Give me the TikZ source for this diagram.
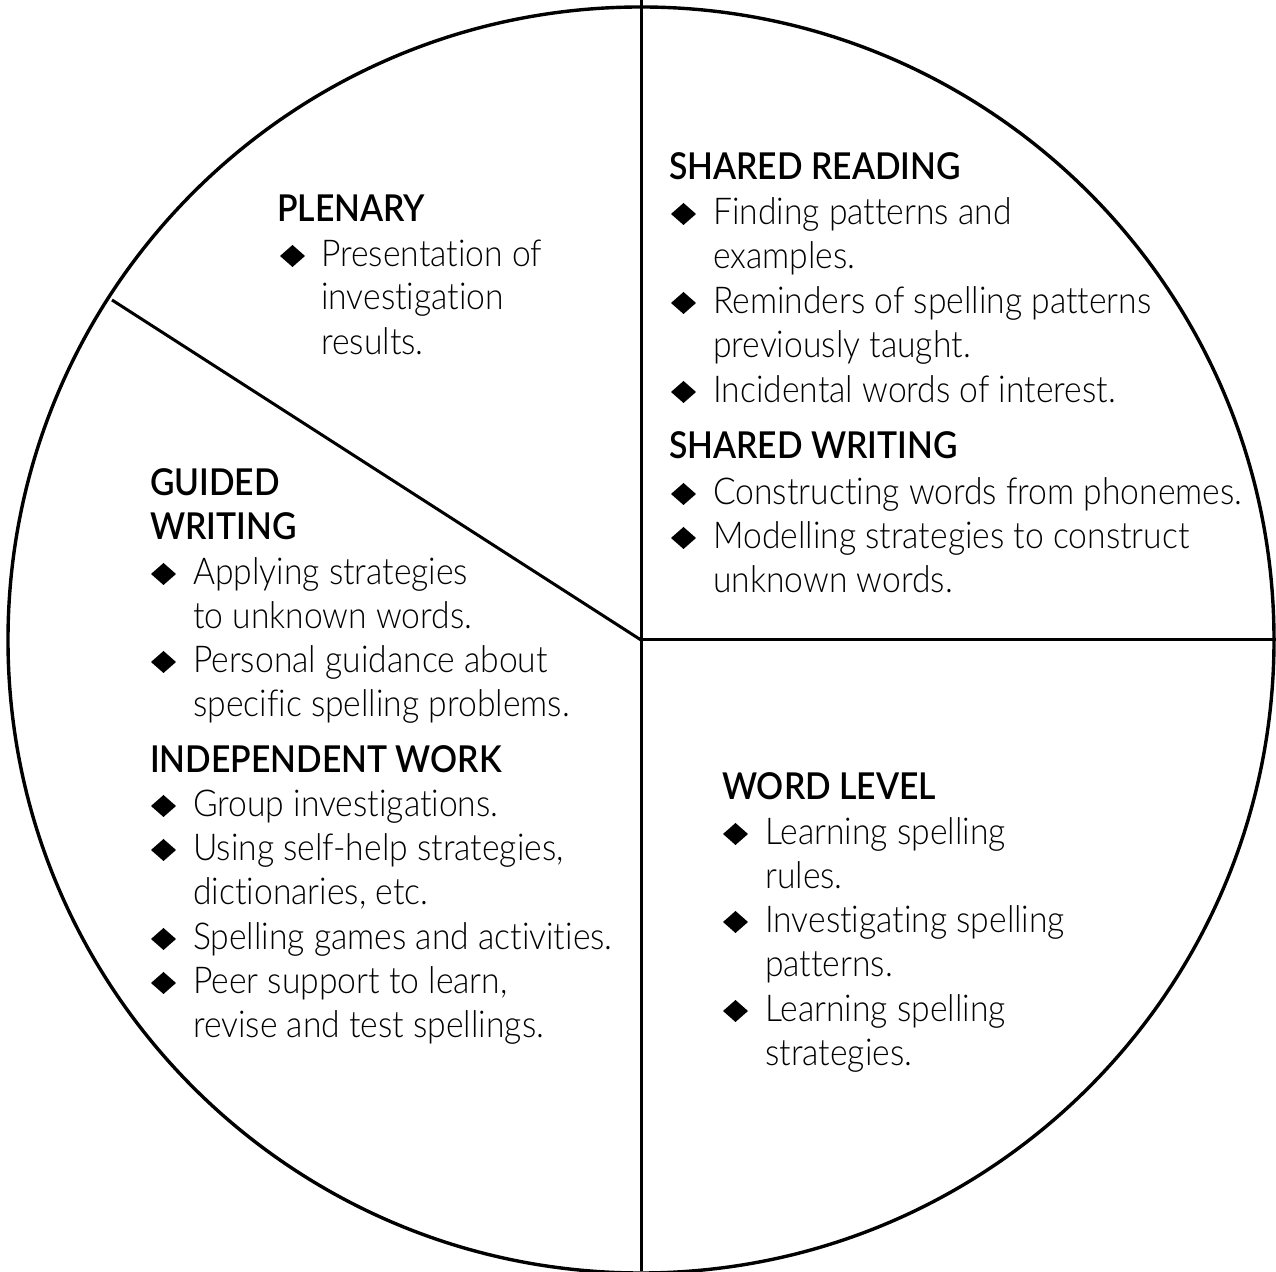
\documentclass[tikz,border=0pt]{standalone}
\usepackage{fontspec}
\setmainfont{Lato}[FakeStretch=0.91,UprightFont=* Light,BoldFont=* Semibold,Ligatures=NoCommon,RawFeature={-liga;-calt;-dlig;-clig}]
\begin{document}
\begin{tikzpicture}[x=1pt,y=1pt,
  hd/.style={anchor=base west,inner sep=0pt,font=\fontsize{37}{44}\selectfont\bfseries},
  tx/.style={anchor=base west,inner sep=0pt,font=\fontsize{37}{44}\selectfont},
  rim/.style={line width=3.4pt},
  divider/.style={line width=3pt}]
\newcommand\mydia[2]{\coordinate (#1) at #2; \fill (#1) ++(0,11) -- ++(12.5,11) -- ++(12.5,-11) -- ++(-12.5,-11) -- cycle;}
\useasboundingbox (0,0) rectangle (1276,1271);
% geometry
\coordinate (c) at (641,631);
\draw[rim] (c) circle (633);
\coordinate (top) at (641,1271);
\coordinate (bot) at (641,0);
\coordinate (rt) at (1276,631);
\coordinate (dg) at (112,971);
\draw[divider] (top) -- (bot);
\draw[divider] (c) -- (rt);
\draw[divider] (c) -- (dg);
% PLENARY
\node[hd] (p0) at (277,1049) {PLENARY};
\mydia{pd1}{(280,1004)}
\node[tx] (p1) at (321,1004) {Presentation of};
\node[tx] (p2) at (321,961) {investigation};
\node[tx] (p3) at (321,916) {results.};
% SHARED READING
\node[hd] (s0) at (669,1091) {SHARED READING};
\mydia{sd1}{(671,1046)}
\node[tx] (s1) at (713,1046) {Finding patterns and};
\node[tx] (s2) at (713,1002) {examples.};
\mydia{sd3}{(671,957)}
\node[tx] (s3) at (713,957) {Reminders of spelling patterns};
\node[tx] (s4) at (713,913) {previously taught.};
\mydia{sd5}{(671,868)}
\node[tx] (s5) at (713,868) {Incidental words of interest.};
% SHARED WRITING
\node[hd] (w0) at (669,812) {SHARED WRITING};
\mydia{wd1}{(671,766)}
\node[tx] (w1) at (713,766) {Constructing words from phonemes.};
\mydia{wd2}{(671,722)}
\node[tx] (w2) at (713,722) {Modelling strategies to construct};
\node[tx] (w3) at (713,678) {unknown words.};
% GUIDED WRITING
\node[hd] (g0) at (150,775) {GUIDED};
\node[hd] (g1) at (150,731) {WRITING};
\mydia{gd2}{(151,686)}
\node[tx] (g2) at (193,686) {Applying strategies};
\node[tx] (g3) at (193,642) {to unknown words.};
\mydia{gd4}{(151,598)}
\node[tx] (g4) at (193,598) {Personal guidance about};
\node[tx] (g5) at (193,554) {specific spelling problems.};
% INDEPENDENT WORK
\node[hd] (i0) at (150,498) {INDEPENDENT WORK};
\mydia{id1}{(151,454)}
\node[tx] (i1) at (193,454) {Group investigations.};
\mydia{id2}{(151,410)}
\node[tx] (i2) at (193,410) {Using self-help strategies,};
\node[tx] (i3) at (193,366) {dictionaries, etc.};
\mydia{id4}{(151,321)}
\node[tx] (i4) at (193,321) {Spelling games and activities.};
\mydia{id5}{(151,277)}
\node[tx] (i5) at (193,277) {Peer support to learn,};
\node[tx] (i6) at (193,233) {revise and test spellings.};
% WORD LEVEL
\node[hd] (l0) at (722,471) {WORD LEVEL};
\mydia{ld1}{(723,426)}
\node[tx] (l1) at (765,426) {Learning spelling};
\node[tx] (l2) at (765,382) {rules.};
\mydia{ld3}{(723,338)}
\node[tx] (l3) at (765,338) {Investigating spelling};
\node[tx] (l4) at (765,294) {patterns.};
\mydia{ld5}{(723,249)}
\node[tx] (l5) at (765,249) {Learning spelling};
\node[tx] (l6) at (765,205) {strategies.};
\end{tikzpicture}
\end{document}
